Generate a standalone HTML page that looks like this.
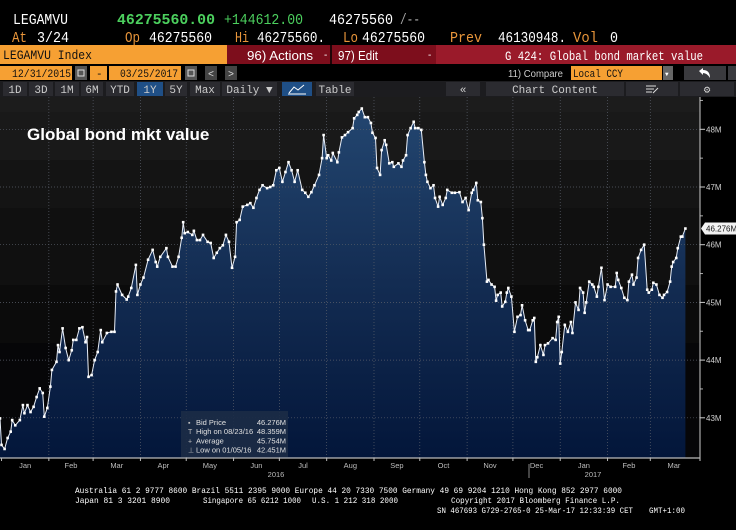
<!DOCTYPE html>
<html><head><meta charset="utf-8"><style>
html,body{margin:0;padding:0;background:#000;width:736px;height:530px;overflow:hidden}
svg{display:block}
text{font-family:"Liberation Mono","DejaVu Sans Mono",monospace}
.s{font-family:"Liberation Sans","DejaVu Sans",sans-serif}
</style></head><body>
<svg id="root" width="736" height="530" viewBox="0 0 736 530" xmlns="http://www.w3.org/2000/svg">
<defs>
<linearGradient id="fillg" x1="0" y1="0" x2="0" y2="1">
<stop offset="0" stop-color="#234670"/><stop offset="0.5" stop-color="#132c52"/><stop offset="1" stop-color="#03163a"/>
</linearGradient>
</defs>
<g>
<text x="13" y="24" font-size="15" fill="#fff" textLength="55" lengthAdjust="spacingAndGlyphs">LEGAMVU</text>
<text x="117" y="24" font-size="15" font-weight="bold" fill="#4cd05e" textLength="98" lengthAdjust="spacingAndGlyphs">46275560.00</text>
<text x="224" y="24" font-size="15" fill="#4cd05e" textLength="79" lengthAdjust="spacingAndGlyphs">+144612.00</text>
<text x="329" y="24" font-size="15" fill="#fff" textLength="64" lengthAdjust="spacingAndGlyphs">46275560</text>
<text x="400" y="24" font-size="15" fill="#aaa" textLength="20" lengthAdjust="spacingAndGlyphs">/--</text>
<text x="12" y="42" font-size="15" fill="#e8953a" textLength="15" lengthAdjust="spacingAndGlyphs">At</text>
<text x="37" y="42" font-size="15" fill="#fff" textLength="32" lengthAdjust="spacingAndGlyphs">3/24</text>
<text x="125" y="42" font-size="15" fill="#e8953a" textLength="15" lengthAdjust="spacingAndGlyphs">Op</text>
<text x="149" y="42" font-size="15" fill="#fff" textLength="63" lengthAdjust="spacingAndGlyphs">46275560</text>
<text x="235" y="42" font-size="15" fill="#e8953a" textLength="14" lengthAdjust="spacingAndGlyphs">Hi</text>
<text x="257" y="42" font-size="15" fill="#fff" textLength="68" lengthAdjust="spacingAndGlyphs">46275560.</text>
<text x="343" y="42" font-size="15" fill="#e8953a" textLength="15" lengthAdjust="spacingAndGlyphs">Lo</text>
<text x="362" y="42" font-size="15" fill="#fff" textLength="63" lengthAdjust="spacingAndGlyphs">46275560</text>
<text x="450" y="42" font-size="15" fill="#e8953a" textLength="32" lengthAdjust="spacingAndGlyphs">Prev</text>
<text x="498" y="42" font-size="15" fill="#fff" textLength="68" lengthAdjust="spacingAndGlyphs">46130948.</text>
<text x="573" y="42" font-size="15" fill="#e8953a" textLength="25" lengthAdjust="spacingAndGlyphs">Vol</text>
<text x="610" y="42" font-size="15" fill="#fff" textLength="8" lengthAdjust="spacingAndGlyphs">0</text>
</g>
<rect x="0" y="45" width="227" height="19" fill="#f6a033"/>
<text x="3" y="59" font-size="13" fill="#111" textLength="89" lengthAdjust="spacingAndGlyphs">LEGAMVU Index</text>
<rect x="227" y="45" width="209" height="19" fill="#7d0e1c"/>
<line x1="331" y1="45" x2="331" y2="64" stroke="#000" stroke-width="1.5"/>
<g><text x="247" y="60" font-size="13" class="s" fill="#fff" textLength="66" lengthAdjust="spacingAndGlyphs">96) Actions</text><text x="324" y="58" font-size="10" class="s" fill="#fff">-</text></g>
<g><text x="338" y="60" font-size="13" class="s" fill="#fff" textLength="40" lengthAdjust="spacingAndGlyphs">97) Edit</text><text x="428" y="58" font-size="10" class="s" fill="#fff">-</text></g>
<rect x="436" y="45" width="300" height="19" fill="#9a1a2a"/>
<text x="505" y="60" font-size="13" fill="#fff" textLength="198" lengthAdjust="spacingAndGlyphs">G 424: Global bond market value</text>
<rect x="0" y="66" width="72" height="14" fill="#f6a033"/>
<text x="12" y="77" font-size="11" fill="#111" textLength="59" lengthAdjust="spacingAndGlyphs">12/31/2015</text>
<rect x="75" y="66" width="12" height="14" fill="#555"/>
<rect x="78" y="70" width="6" height="6" fill="none" stroke="#ddd" stroke-width="1"/>
<rect x="90" y="66" width="17" height="14" fill="#f6a033"/>
<text x="96" y="77" font-size="11" fill="#111">-</text>
<rect x="109" y="66" width="72" height="14" fill="#f6a033"/>
<text x="120" y="77" font-size="11" fill="#111" textLength="58" lengthAdjust="spacingAndGlyphs">03/25/2017</text>
<rect x="185" y="66" width="12" height="14" fill="#555"/>
<rect x="188" y="70" width="6" height="6" fill="none" stroke="#ddd" stroke-width="1"/>
<rect x="205" y="66" width="12" height="14" fill="#444"/>
<text x="208" y="77" font-size="10" fill="#ddd">&lt;</text>
<rect x="225" y="66" width="12" height="14" fill="#444"/>
<text x="228" y="77" font-size="10" fill="#ddd">&gt;</text>
<text x="508" y="77" font-size="10" class="s" fill="#ccc" textLength="55" lengthAdjust="spacingAndGlyphs">11) Compare</text>
<rect x="571" y="66" width="91" height="14" fill="#f6a033"/>
<text x="573" y="77" font-size="11" fill="#111" textLength="50" lengthAdjust="spacingAndGlyphs">Local CCY</text>
<rect x="663" y="66" width="10" height="14" fill="#666"/>
<text x="665" y="76" font-size="6" fill="#fff">▼</text>
<rect x="684" y="66" width="42" height="14" fill="#3a3a3e"/>
<path d="M699 71 L703 68 L703 70 Q710 70 710 78 Q707 73 703 73 L703 75 Z" fill="#fff"/>
<rect x="728" y="66" width="8" height="14" fill="#3a3a3e"/>
<rect x="0" y="81" width="736" height="16" fill="#1c1c1f"/>
<g id="tb" class="s" font-size="11"></g>
<g id="plot"></g>
<g font-size="8.5" fill="#fff">
<text x="75" y="493" textLength="547" lengthAdjust="spacingAndGlyphs">Australia 61 2 9777 8600 Brazil 5511 2395 9000 Europe 44 20 7330 7500 Germany 49 69 9204 1210 Hong Kong 852 2977 6000</text>
<text x="75" y="503" textLength="95" lengthAdjust="spacingAndGlyphs">Japan 81 3 3201 8900</text>
<text x="203" y="503" textLength="98" lengthAdjust="spacingAndGlyphs">Singapore 65 6212 1000</text>
<text x="312" y="503" textLength="86" lengthAdjust="spacingAndGlyphs">U.S. 1 212 318 2000</text>
<text x="451" y="503" textLength="169" lengthAdjust="spacingAndGlyphs">Copyright 2017 Bloomberg Finance L.P.</text>
<text x="437" y="513" textLength="196" lengthAdjust="spacingAndGlyphs">SN 467693 G729-2765-0 25-Mar-17 12:33:39 CET</text>
<text x="649" y="513" textLength="36" lengthAdjust="spacingAndGlyphs">GMT+1:00</text>
</g>
</svg>
<script>
const days = [0,1,3,5,7,8,10,13,15,16,18,20,22,24,26,28,29,31,33,34,37,38,39,41,43,45,47,48,50,52,54,56,57,58,60,62,64,66,67,70,73,75,76,77,80,83,84,86,89,90,92,94,97,100,102,103,105,109,110,113,115,117,119,120,121,123,126,127,129,131,133,136,138,140,142,144,146,148,150,152,154,155,157,159,162,164,166,168,170,172,175,177,179,181,183,185,187,189,191,193,195,198,200,202,204,206,209,211,212,214,215,217,218,221,222,224,226,228,231,232,234,235,237,239,241,243,244,246,247,249,250,252,253,255,257,258,261,263,264,266,267,269,271,272,274,276,278,279,280,282,284,285,287,288,290,292,293,296,298,301,303,305,307,309,310,312,313,315,316,317,319,320,322,324,325,326,328,329,331,332,333,335,337,339,341,342,344,346,347,349,350,351,352,354,356,357,359,362,364,365,366,367,368,370,372,374,375,377,379,380,382,383,384,386,388,389,391,392,394,396,398,400,403,404,405,407,409,411,412,414,415,417,418,420,422,424,425,427,428,430,432,434,435,437,439,440,441,443,444,446,447,449];
const values = [42.99,42.53,42.46,42.65,42.76,42.96,42.87,42.96,43.22,43.08,43.22,43.10,43.19,43.36,43.51,43.43,43.02,43.17,43.54,43.83,43.97,44.26,44.14,44.55,44.21,44.00,44.17,44.35,44.35,44.55,44.57,44.31,44.40,43.71,43.74,44.00,44.14,44.52,44.31,44.47,44.49,44.49,45.19,45.31,45.13,45.05,45.10,45.25,45.65,45.13,45.31,45.43,45.74,45.91,45.70,45.62,45.79,45.94,45.79,45.62,45.62,45.79,46.12,46.39,46.20,46.22,46.17,46.24,46.08,46.08,46.17,46.05,46.03,45.77,45.86,45.94,45.99,46.17,46.05,45.60,45.79,46.39,46.43,46.66,46.69,46.72,46.64,46.81,46.95,47.03,46.98,47.00,47.03,47.29,47.33,47.09,47.26,47.43,47.29,47.09,47.29,46.95,46.90,46.83,46.91,47.03,47.21,47.50,47.90,47.50,47.55,47.46,47.59,47.43,47.60,47.86,47.90,47.95,48.02,48.19,48.25,48.30,48.36,48.21,48.21,48.11,47.94,47.85,47.33,47.21,47.64,47.81,47.73,47.41,47.43,47.35,47.41,47.35,47.46,47.55,47.90,48.02,48.13,48.02,48.02,47.99,47.43,47.21,47.09,46.98,47.03,46.81,46.66,46.83,46.69,46.81,46.95,46.90,46.90,46.91,46.74,46.81,46.60,46.90,46.95,47.07,46.77,46.74,46.46,46.00,45.36,45.39,45.31,45.27,45.03,45.13,45.17,44.93,45.01,45.17,45.25,45.10,44.49,44.75,44.78,44.95,44.69,44.52,44.52,44.69,44.73,43.97,44.05,44.26,44.09,44.26,44.29,44.38,44.35,44.66,44.75,43.94,44.14,44.61,44.49,44.66,44.47,45.00,44.87,45.25,45.17,44.82,45.00,45.36,45.31,45.27,45.10,45.27,45.60,45.04,45.31,45.27,45.27,45.51,45.39,45.25,45.08,45.04,45.36,45.48,45.31,45.43,45.77,45.91,46.00,45.22,45.17,45.22,45.34,45.31,45.13,45.08,45.13,45.18,45.36,45.62,45.70,45.77,45.94,46.14,46.14,46.28];
const yTicks = [43,44,45,46,47,48];
const yTickLabels = ["43M","44M","45M","46M","47M","48M"];
const monthStarts = [1,32,61,92,122,153,183,214,245,275,306,336,367,398,426,457];
const monthLabels = ["Jan","Feb","Mar","Apr","May","Jun","Jul","Aug","Sep","Oct","Nov","Dec","Jan","Feb","Mar"];
const lastPriceLabel = "46.276M";
const legendRows = [["Bid Price","46.276M"],["High on 08/23/16","48.359M"],["Average","45.754M"],["Low on 01/05/16","42.451M"]];

const NS="http://www.w3.org/2000/svg";
function mk(tag,attrs,parent,txt){const e=document.createElementNS(NS,tag);for(const k in attrs)e.setAttribute(k,attrs[k]);if(txt!==undefined)e.textContent=txt;parent.appendChild(e);return e;}
const X=d=>d*1.5265;
const Y=v=>129.3+(48-v)*57.7;
const PT=97,PB=458,PR=700;
const plot=document.getElementById('plot');

const bands=[[97,112,"#1c1c1c"],[112,160,"#191919"],[160,208,"#141414"],[208,285,"#101010"],[285,343,"#0b0b0b"],[343,458,"#060608"]];
bands.forEach(b=>{const r=mk('rect',{x:0,y:b[0],width:PR,height:b[1]-b[0],fill:b[2]},plot);

});

const n=Math.min(days.length,values.length);
let d="M"+X(days[0])+","+PB;
let ld="";
for(let i=0;i<n;i++){d+=" L"+X(days[i]).toFixed(1)+","+Y(values[i]).toFixed(1);ld+=(i?" L":"M")+X(days[i]).toFixed(1)+","+Y(values[i]).toFixed(1);}
d+=" L"+X(days[n-1]).toFixed(1)+","+PB+" Z";
const area=mk('path',{d:d,fill:"url(#fillg)"},plot);



for(let i=1;i<monthStarts.length-1;i++){const gl=mk('line',{x1:X(monthStarts[i]),x2:X(monthStarts[i]),y1:PT,y2:PB,stroke:"#5a5f6a","stroke-width":0.7,"stroke-dasharray":"1,2"},plot);

}
yTicks.forEach((t,i)=>{const gl=mk('line',{x1:0,x2:PR,y1:Y(t),y2:Y(t),stroke:"#5a5f6a","stroke-width":0.7,"stroke-dasharray":"1,2"},plot);


mk('line',{x1:PR,x2:PR+5,y1:Y(t),y2:Y(t),stroke:"#ccc","stroke-width":1},plot);
const lb=mk('text',{x:PR+6,y:Y(t)+3,"font-size":8,fill:"#cfcfcf",class:"s"},plot,yTickLabels[i]);


mk('line',{x1:PR,x2:PR+3,y1:Y(t+0.5),y2:Y(t+0.5),stroke:"#aaa","stroke-width":1},plot);});
mk('line',{x1:PR,x2:PR,y1:PT,y2:PB+3,stroke:"#ccc","stroke-width":1},plot);

const line=mk('path',{d:ld,fill:"none",stroke:"#e8eef8","stroke-width":1},plot);


for(let i=0;i<n;i++){const p=mk('rect',{x:X(days[i])-1.3,y:Y(values[i])-1.3,width:2.6,height:2.6,fill:"#fff"},plot);

}

const ly=Y(values[n-1]);
mk('path',{d:`M701 ${ly} L705 ${ly-6} L736 ${ly-6} L736 ${ly+6} L705 ${ly+6} Z`,fill:"#f2f2f2"},plot);
const lt=mk('text',{x:706,y:ly+3,"font-size":8,fill:"#111",class:"s"},plot,lastPriceLabel);



mk('line',{x1:0,x2:PR,y1:PB,y2:PB,stroke:"#bbb","stroke-width":1.2},plot);
for(let i=0;i<monthLabels.length;i++){
 mk('line',{x1:X(monthStarts[i]),x2:X(monthStarts[i]),y1:PB,y2:PB+3,stroke:"#bbb"},plot);
 const cx=(X(monthStarts[i])+Math.min(X(monthStarts[i+1]),PR))/2;
 const t=mk('text',{x:cx,y:468,"font-size":7.5,fill:"#bdbdbd","text-anchor":"middle",class:"s"},plot,monthLabels[i]);
 
 
}
const y16=mk('text',{x:276,y:477,"font-size":7.5,fill:"#bdbdbd","text-anchor":"middle",class:"s"},plot,"2016");


const y17=mk('text',{x:593,y:477,"font-size":7.5,fill:"#bdbdbd","text-anchor":"middle",class:"s"},plot,"2017");


mk('line',{x1:529,x2:529,y1:464,y2:478,stroke:"#888"},plot);

const title=mk('text',{x:27,y:140,"font-size":17,"font-weight":"bold",fill:"#fff",class:"s"},plot,"Global bond mkt value");



const lg=mk('g',{},plot);


mk('rect',{x:181,y:411,width:107,height:46,fill:"#1b2b45",opacity:0.92},lg);
const sym=["▪","T","+","⊥"];
legendRows.forEach((r,i)=>{
 const yy=425+i*9.2;
 mk('text',{x:188,y:yy,"font-size":7,fill:"#bbb",class:"s"},lg,sym[i]);
 const a=mk('text',{x:196,y:yy,"font-size":7.5,fill:"#e0e0e0",class:"s"},lg,r[0]);
 
 
 mk('text',{x:286,y:yy,"font-size":7.5,fill:"#e0e0e0","text-anchor":"end",class:"s"},lg,r[1]);
});

const tb=document.getElementById('tb');
const btns=[["1D",3,24],["3D",29,24],["1M",55,24],["6M",81,22],["YTD",106,28],["1Y",137,26,1],["5Y",165,22],["Max",190,30],["Daily ▼",222,55],["",282,30,1],["Table",316,38],["«",446,34],["Chart Content",486,138],["",626,52],["⚙",680,54]];
btns.forEach(b=>{
 const r=mk('rect',{x:b[1],y:82,width:b[2],height:14,fill:b[3]?"#1f4f86":"#2b2b30"},tb);
 
 
 if(b[0])mk('text',{x:b[1]+b[2]/2,y:93,"text-anchor":"middle",fill:"#ccc"},tb,b[0]);
});
mk('path',{d:"M289 93 L294 87 L298 90 L304 85 M288 94 L306 94",stroke:"#fff",fill:"none","stroke-width":1},tb);
mk('path',{d:"M646 86 L656 86 M646 89 L654 89 M646 92 L652 92 M653 93 L658 88",stroke:"#ddd",fill:"none","stroke-width":1},tb);
</script>
</body></html>
